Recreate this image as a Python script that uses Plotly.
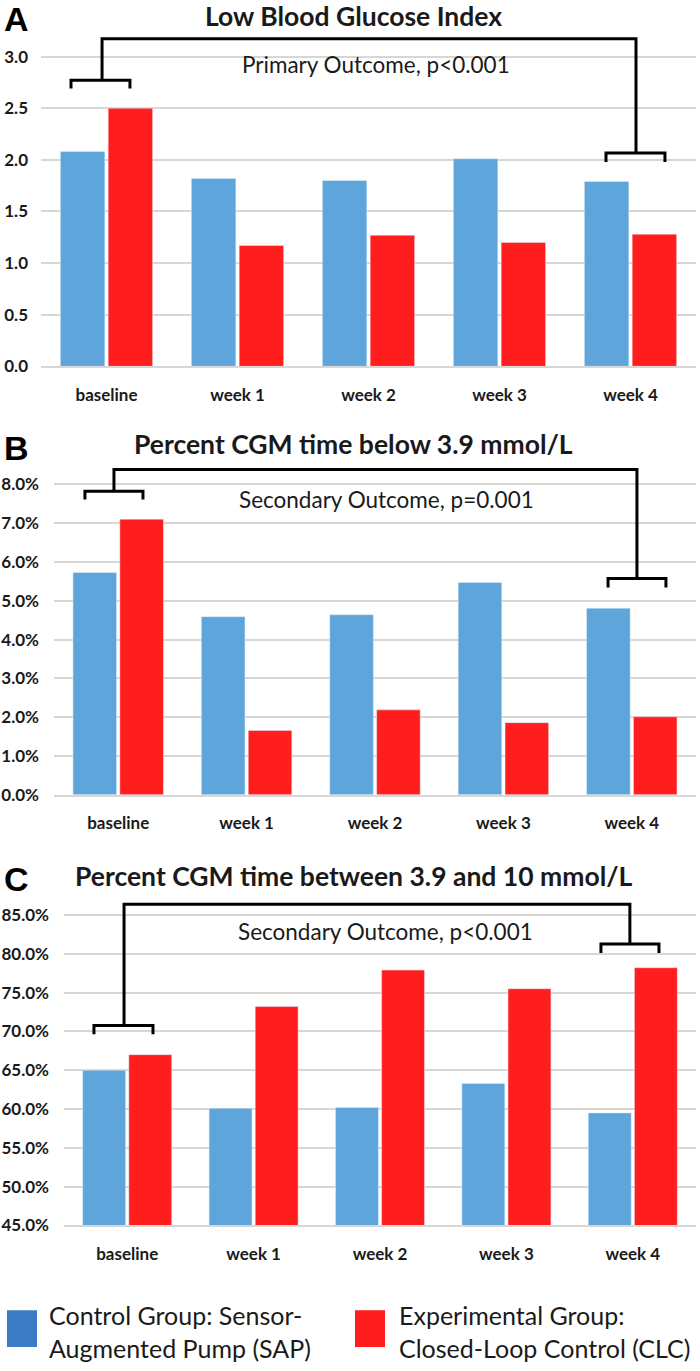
import plotly.graph_objects as go

W, H = 700, 1371

# ---------------- data ----------------
categories = ["baseline", "week 1", "week 2", "week 3", "week 4"]
lbgi_sap = [2.08, 1.82, 1.80, 2.01, 1.79]
lbgi_clc = [2.50, 1.17, 1.27, 1.20, 1.28]
below_sap = [5.73, 4.59, 4.64, 5.47, 4.81]
below_clc = [7.10, 1.66, 2.19, 1.86, 2.01]
inrange_sap = [65.0, 60.1, 60.2, 63.3, 59.5]
inrange_clc = [67.0, 73.2, 77.9, 75.5, 78.2]

panel_letters = ["A", "B", "C"]
panel_titles = ["Low Blood Glucose Index",
                "Percent CGM time below 3.9 mmol/L",
                "Percent CGM time between 3.9 and 10 mmol/L"]
outcome_texts = ["Primary Outcome, p<0.001",
                 "Secondary Outcome, p=0.001",
                 "Secondary Outcome, p<0.001"]
series_names = ["Control Group: Sensor-Augmented Pump (SAP)",
                "Experimental Group: Closed-Loop Control (CLC)"]
legend_labels = ["Control Group: Sensor-<br>Augmented Pump (SAP)",
                 "Experimental Group:<br>Closed-Loop Control (CLC)"]

# ---------------- styles ----------------
BLUE = "#5DA5DA"
RED = "#FF1D1D"
LEG_BLUE = "#3C7CC4"
GRID = "#D9D6D6"
TXT = "#1a1a1a"
FONT = "Lato, Liberation Sans, Arial, sans-serif"
LETTER_FONT = "Liberation Sans, Arial, sans-serif"


def px_x(p):
    return p / W


def px_y(p):
    return 1 - p / H


fig = go.Figure()

panels = [
    dict(sap=lbgi_sap, clc=lbgi_clc, xdom=(41, 696), ydom=(369, 36.2), yrange=[0, 3.2],
         dtick=0.5, tick0=0, suffix="", standoff=12,
         big=3.173, lvx=-0.034, lsy=(2.77, 2.69), lsx=(-0.271, 0.179),
         rvx=4.042, rsy=(2.067, 1.98), rsx=(3.813, 4.263), txt=(2.057, 2.92),
         title_y=16, letter_y=19),
    dict(sap=below_sap, clc=below_clc, xdom=(54, 696), ydom=(800.7, 468.3), yrange=[0, 8.5],
         dtick=1, tick0=0, suffix="%", standoff=14,
         big=8.38, lvx=-0.033, lsy=(7.82, 7.61), lsx=(-0.259, 0.193),
         rvx=4.04, rsy=(5.57, 5.34), rsx=(3.815, 4.266), txt=(2.086, 7.61),
         title_y=447, letter_y=451),
    dict(sap=inrange_sap, clc=inrange_clc, xdom=(64, 696), ydom=(1234.5, 907.6), yrange=[45, 86.8],
         dtick=5, tick0=45, suffix="%", standoff=14,
         big=86.37, lvx=-0.025, lsy=(70.77, 69.62), lsx=(-0.263, 0.204),
         rvx=3.977, rsy=(81.25, 80.1), rsx=(3.748, 4.207), txt=(2.04, 82.9),
         title_y=882, letter_y=885),
]

shapes = []
annotations = []

for i, p in enumerate(panels):
    n = "" if i == 0 else str(i + 1)
    xa, ya = "x" + n, "y" + n
    fig.add_trace(go.Bar(x=categories, y=p["sap"], name=series_names[0], marker_color=BLUE,
                         xaxis=xa, yaxis=ya, showlegend=False))
    fig.add_trace(go.Bar(x=categories, y=p["clc"], name=series_names[1], marker_color=RED,
                         xaxis=xa, yaxis=ya, showlegend=False))
    fig.update_layout(**{
        "xaxis" + n: dict(domain=[px_x(p["xdom"][0]), px_x(p["xdom"][1])], anchor=ya,
                          range=[-0.5, 4.5], showgrid=False, showline=True, linecolor=GRID,
                          linewidth=2, ticks="", ticklabelstandoff=12,
                          tickfont=dict(family=FONT, size=17, color=TXT, weight="bold"),
                          fixedrange=True),
        "yaxis" + n: dict(domain=[px_y(p["ydom"][0]), px_y(p["ydom"][1])], anchor=xa,
                          range=p["yrange"], dtick=p["dtick"], tick0=p["tick0"],
                          tickformat=".1f", ticksuffix=p["suffix"], showgrid=True,
                          gridcolor=GRID, gridwidth=2, zeroline=False, ticks="",
                          ticklabelstandoff=p["standoff"],
                          tickfont=dict(family=FONT, size=17, color=TXT, weight="bold"),
                          fixedrange=True),
    })
    # brackets
    line = dict(color="black", width=3)
    l0, l1 = p["lsx"]
    r0, r1 = p["rsx"]
    ls_top, ls_bot = p["lsy"]
    rs_top, rs_bot = p["rsy"]
    shapes.append(dict(type="path", xref=xa, yref=ya, line=line,
                       path=f"M {l0},{ls_bot} L {l0},{ls_top} L {l1},{ls_top} L {l1},{ls_bot}"))
    shapes.append(dict(type="path", xref=xa, yref=ya, line=line,
                       path=f"M {r0},{rs_bot} L {r0},{rs_top} L {r1},{rs_top} L {r1},{rs_bot}"))
    shapes.append(dict(type="path", xref=xa, yref=ya, line=line,
                       path=f"M {p['lvx']},{ls_top} L {p['lvx']},{p['big']} L {p['rvx']},{p['big']} L {p['rvx']},{rs_top}"))
    annotations.append(dict(x=p["txt"][0], y=p["txt"][1], xref=xa, yref=ya, text=outcome_texts[i],
                            xanchor="center", yanchor="middle",
                            showarrow=False, font=dict(family=FONT, size=22.5, color=TXT)))
    annotations.append(dict(x=px_x(354), y=px_y(p["title_y"]), xref="paper", yref="paper",
                            xanchor="center", yanchor="middle",
                            text="<b>" + panel_titles[i] + "</b>", showarrow=False,
                            font=dict(family=FONT, size=26.5, color=TXT)))
    annotations.append(dict(x=px_x(16), y=px_y(p["letter_y"]), xref="paper", yref="paper",
                            xanchor="center", yanchor="middle",
                            text="<b>" + panel_letters[i] + "</b>", showarrow=False,
                            font=dict(family=LETTER_FONT, size=34, color="black")))

# legend (custom)
leg_colors = [LEG_BLUE, RED]
leg_x = [7, 355]
leg_text_x = [47, 397]
for j in range(2):
    shapes.append(dict(type="rect", xref="paper", yref="paper",
                       x0=px_x(leg_x[j]), x1=px_x(leg_x[j] + 30), y0=px_y(1357), y1=px_y(1320),
                       fillcolor=leg_colors[j], line=dict(width=0)))
    annotations.append(dict(x=px_x(leg_text_x[j]), y=px_y(1341), xref="paper", yref="paper",
                            xanchor="left", yanchor="middle", align="left",
                            text=legend_labels[j], showarrow=False,
                            font=dict(family=FONT, size=25, color=TXT)))

fig.update_layout(
    width=W, height=H, margin=dict(l=0, r=0, t=0, b=0),
    paper_bgcolor="white", plot_bgcolor="white",
    barmode="group", bargap=0.27, bargroupgap=0.07,
    shapes=shapes, annotations=annotations,
)

fig.write_html("out.html", config={"displayModeBar": False},
               post_script="document.body.style.margin='0px';document.body.style.padding='0px';")
